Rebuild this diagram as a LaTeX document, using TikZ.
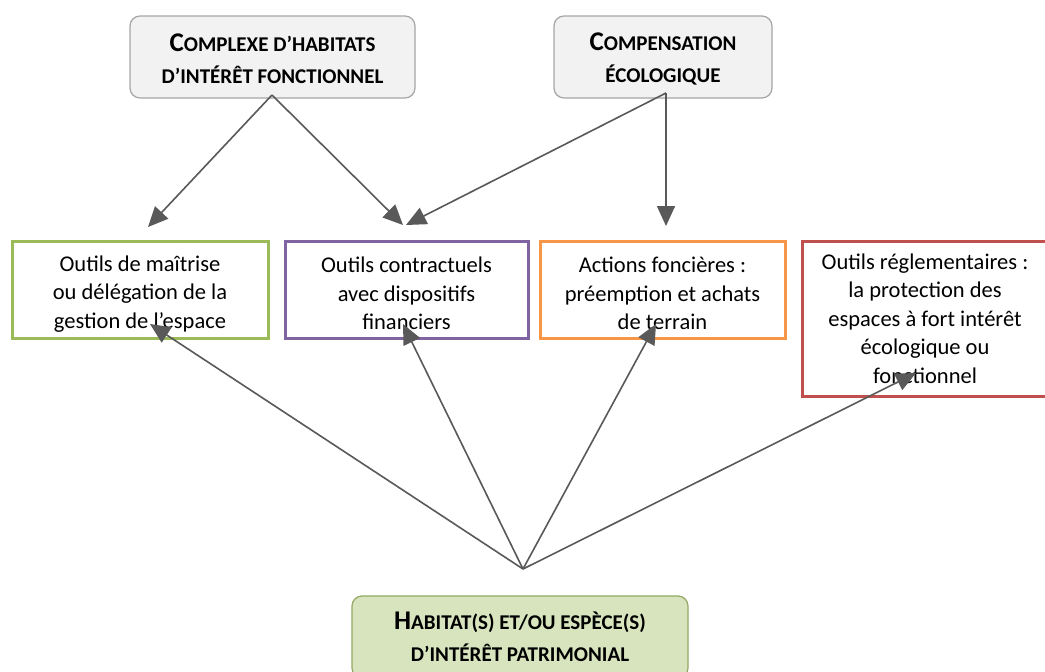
\documentclass[tikz,border=0pt]{standalone}
\usepackage{fontspec}
\setmainfont{Carlito}
\usetikzlibrary{arrows.meta}
\definecolor{topfill}{HTML}{F2F2F2}
\definecolor{topdraw}{HTML}{A6A6A6}
\definecolor{cgreen}{HTML}{9BBB59}
\definecolor{cpurple}{HTML}{8064A2}
\definecolor{corange}{HTML}{F79646}
\definecolor{cred}{HTML}{C0504D}
\definecolor{botfill}{HTML}{D7E4BD}
\definecolor{arrowc}{HTML}{595959}
\newcommand\capbig{\fontsize{27}{32}\selectfont}
\newcommand\capsmall{\fontsize{21}{32}\selectfont}
\newcommand\toppad[1]{\rule{0pt}{#1}}
\tikzset{
  topbox/.style={draw=topdraw, fill=topfill, line width=1.2pt, rounded corners=10pt, align=center, font=\bfseries\capsmall, inner sep=0pt},
  midbox/.style={line width=3pt, fill=white, align=center, font=\fontsize{22.5}{28.5}\selectfont, inner sep=0pt, minimum height=97pt},
  botbox/.style={draw=cgreen!70!gray, fill=botfill, line width=1.2pt, rounded corners=10pt, align=center, font=\bfseries\capsmall, inner sep=0pt},
  arr/.style={draw=arrowc, line width=1.6pt, -{Triangle[length=20pt,width=18pt]}, arrowc}
}
\begin{document}
\begin{tikzpicture}[x=1pt,y=-1pt]
\clip (0,0) rectangle (1045,672);
\fill[white] (0,0) rectangle (1045,672);
\node[topbox, minimum width=285pt, minimum height=82pt] (c1) at (272.5,57) {\toppad{21pt}{\capbig C}OMPLEXE D’HABITATS\\D’INTÉRÊT FONCTIONNEL};
\node[topbox, minimum width=218pt, minimum height=82pt] (c2) at (663,57) {\toppad{21pt}{\capbig C}OMPENSATION\\ÉCOLOGIQUE};
\node[midbox, draw=cgreen, minimum width=256pt] (b1) at (140,289.5) {\toppad{24pt}Outils de maîtrise\\ou délégation de la\\gestion de l’espace};
\node[midbox, draw=cpurple, minimum width=243pt] (b2) at (406.5,289.5) {\toppad{24pt}Outils contractuels\\avec dispositifs\\financiers};
\node[midbox, draw=corange, minimum width=245pt] (b3) at (662.5,289.5) {\toppad{24pt}Actions foncières :\\préemption et achats\\de terrain};
\node[midbox, draw=cred, minimum width=246pt, minimum height=155pt] (b4) at (925,318.5) {Outils réglementaires :\\la protection des\\espaces à fort intérêt\\écologique ou\\fonctionnel};
\node[botbox, minimum width=336pt, minimum height=82pt] (hb) at (520,637) {{\capbig H}ABITAT(S) ET/OU ESPÈCE(S)\\D’INTÉRÊT PATRIMONIAL};
\coordinate (s1) at (272,95);
\coordinate (s2) at (666,93);
\coordinate (hub) at (523,569);
\coordinate (e1) at (148,227);
\coordinate (e2) at (403,225);
\coordinate (e3) at (406,225);
\coordinate (e4) at (666,226);
\coordinate (f1) at (150,324);
\coordinate (f2) at (403,324);
\coordinate (f3) at (656,324);
\coordinate (f4) at (916,373);
\draw[arr] (s1) -- (e1);
\draw[arr] (s1) -- (e2);
\draw[arr] (s2) -- (e3);
\draw[arr] (s2) -- (e4);
\draw[arr] (hub) -- (f1);
\draw[arr] (hub) -- (f2);
\draw[arr] (hub) -- (f3);
\draw[arr] (hub) -- (f4);
\end{tikzpicture}
\end{document}
